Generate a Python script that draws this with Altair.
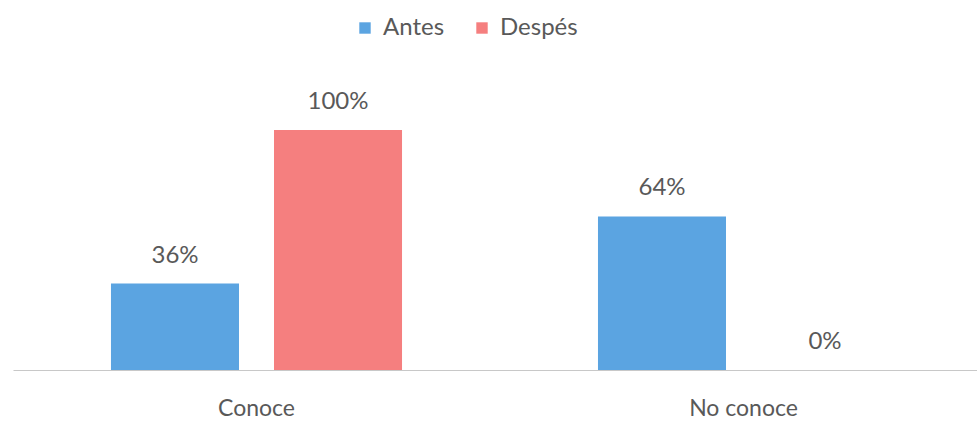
import altair as alt
import pandas as pd

categories = ["Conoce", "Conoce", "No conoce", "No conoce"]
series = ["Antes", "Despés", "Antes", "Despés"]
values = [36, 100, 64, 0]
labels = ["36%", "100%", "64%", "0%"]

df = pd.DataFrame({"cat": categories, "serie": series, "val": values, "lab": labels})

FONT = "Lato"
TXT = "#595959"
color_scale = alt.Scale(domain=["Antes", "Despés"], range=["#5BA4E1", "#F57F7F"])

base = alt.Chart(df).encode(
    x=alt.X("cat:N", sort=["Conoce", "No conoce"],
            scale=alt.Scale(range=[0, 974], paddingInner=0, paddingOuter=0),
            axis=alt.Axis(title=None, labelAngle=0, ticks=False, domainColor="#c8c8c8",
                          domainWidth=1.2, labelFont=FONT, labelFontSize=23,
                          labelColor=TXT, labelPadding=45, labelBaseline="alphabetic")),
    xOffset=alt.XOffset("serie:N", sort=["Antes", "Despés"],
                        scale=alt.Scale(paddingInner=0.2147, paddingOuter=0.601)),
)

bars = base.mark_bar().encode(
    y=alt.Y("val:Q", scale=alt.Scale(domain=[0, 100], nice=False),
            axis=None),
    color=alt.Color("serie:N", scale=color_scale, sort=["Antes", "Despés"],
                    legend=alt.Legend(title=None, orient="none", direction="horizontal",
                                      legendX=340, legendY=-114, symbolType="square",
                                      symbolSize=130, symbolStrokeWidth=0,
                                      labelFont=FONT, labelFontSize=24, labelColor=TXT,
                                      columnPadding=25, labelOffset=6)),
)

text = base.mark_text(baseline="alphabetic", dy=-21, font=FONT, fontSize=24, color=TXT).encode(
    y=alt.Y("val:Q"),
    text="lab:N",
)

chart = alt.layer(bars, text).properties(
    width=964, height=240,
    background="white",
    padding={"left": 13, "top": 130, "right": 0, "bottom": 51},
    autosize=alt.AutoSizeParams(type="none"),
).configure_view(stroke=None, strokeWidth=0)

chart.save("out.html", embed_options={"renderer": "svg", "actions": False})
